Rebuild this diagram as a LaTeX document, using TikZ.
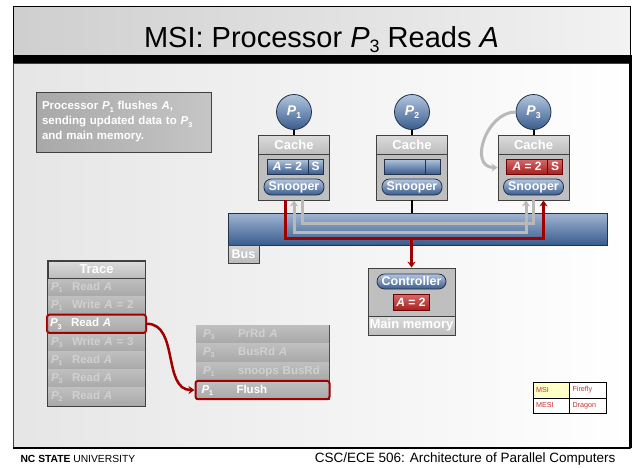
\documentclass[tikz,border=0pt]{standalone}
\usepackage{fontspec}
\setmainfont{Liberation Sans}
\usetikzlibrary{arrows.meta}

\definecolor{bluetop}{HTML}{B2C5DE}
\definecolor{bluebot}{HTML}{3A5C8E}
\definecolor{blueedge}{HTML}{22324C}
\definecolor{redtop}{HTML}{D86A6A}
\definecolor{redbot}{HTML}{A42222}
\definecolor{hlred}{HTML}{A00000}
\definecolor{darkedge}{HTML}{404040}
\definecolor{fadetext}{HTML}{D0D0D0}
\definecolor{legred}{HTML}{C83030}
\definecolor{legyellow}{HTML}{FFFFC8}

% subscripted processor name
\newcommand{\Pn}[1]{\textit{P}\raisebox{-0.35ex}{\scalebox{0.62}{#1}}}

\begin{document}
\begin{tikzpicture}
[x=1pt,y=-1pt,
  procnode/.style={shape=circle,minimum size=35pt,inner sep=0pt,draw=blueedge,thick,top color=bluetop,bottom color=bluebot,text=white,font=\fontsize{14}{15}\selectfont\bfseries},
  cachebox/.style={shape=rectangle,minimum width=71pt,minimum height=65pt,inner sep=0pt,draw=darkedge,thick,fill=gray!50},
  headbox/.style={shape=rectangle,minimum width=71pt,minimum height=19pt,inner sep=0pt,draw=darkedge,thick,top color=gray!28,bottom color=gray!52,text=white,font=\fontsize{13}{14}\selectfont\bfseries},
  bluefield/.style={shape=rectangle,minimum height=15pt,inner sep=0pt,draw=blueedge,thick,top color=bluetop,bottom color=bluebot,text=white,font=\fontsize{12}{13}\selectfont\bfseries},
  redfield/.style={shape=rectangle,minimum height=15pt,inner sep=0pt,draw=hlred!70!black,thick,top color=redtop,bottom color=redbot,text=white,font=\fontsize{12}{13}\selectfont\bfseries},
  pillnode/.style={shape=rectangle,rounded corners=7.5pt,minimum height=16pt,inner sep=0pt,draw=blueedge,thick,top color=bluetop,bottom color=bluebot,text=white,font=\fontsize{12.5}{13}\selectfont\bfseries},
  rowbox/.style={shape=rectangle,minimum height=18.3pt,inner ysep=0pt,align=left,top color=gray!50,bottom color=gray!68,text=fadetext,font=\fontsize{11.5}{13}\selectfont\bfseries},
  hlrow/.style={rowbox,draw=hlred,line width=2pt,rounded corners=2.5pt,text=white},
  legcell/.style={shape=rectangle,minimum height=15.5pt,inner xsep=3pt,text width=30.5pt,align=left,draw=black,fill=white,text=legred,font=\fontsize{7.2}{8}\selectfont},
  wire/.style={line width=2pt,draw=black},
  grayline/.style={line width=3pt,draw=gray!55},
  grayarrow/.style={grayline,->,>={Stealth[length=6pt,width=8pt]}},
  redarrow/.style={line width=3pt,draw=hlred,->,>={Stealth[length=6pt,width=8pt]}}]
\useasboundingbox (0,0) rectangle (636,467);
\fill[white] (0,0) rectangle (636,467);
% slide frame
\node (content) at (321.5,255.5) [shape=rectangle,minimum width=617pt,minimum height=385pt,draw=darkedge,left color=gray!20,right color=white] {};
\draw[line width=3pt] (content.north east) -- (content.south east);
\draw[line width=2.5pt] (content.south west) -- (content.south east);
\node (title) at (321.5,30.5) [shape=rectangle,minimum width=617pt,minimum height=49pt,draw=black,thick,left color=gray!38,right color=gray!10] {};
\node (titlebar) at (322.5,59) [shape=rectangle,minimum width=619pt,minimum height=8pt,inner sep=0pt,fill=black] {};
\node (titletext) at (321.5,47) [anchor=base,font=\fontsize{29}{32}\selectfont] {MSI: Processor \Pn{3} Reads \textit{A}};
\node (univ) at (17,459) [anchor=west,font=\fontsize{10.3}{12}\selectfont] {\textbf{NC STATE} UNIVERSITY};
\node (course) at (619,459) [anchor=east,font=\fontsize{13.5}{15}\selectfont] {CSC/ECE 506: Architecture of Parallel Computers};
% note
\node (note) at (123.5,122) [shape=rectangle,minimum width=175pt,minimum height=60pt,inner xsep=6pt,text width=163pt,align=left,draw=darkedge,thick,left color=gray!68,right color=gray!45,text=white,font=\fontsize{11.5}{15}\selectfont\bfseries]
  {Processor \Pn{1} flushes \textit{A},\\ sending updated data to \Pn{3}\\ and main memory.};
% processors and caches
\node (p1) at (294,112) [procnode] {\Pn{1}};
\node (p2) at (412,112) [procnode] {\Pn{2}};
\node (p3) at (533.5,112) [procnode] {\Pn{3}};
\node (c1) at (294,167.5) [cachebox] {};
\node (c2) at (412,167.5) [cachebox] {};
\node (c3) at (533.5,167.5) [cachebox] {};
\node (h1) at (294,144.5) [headbox] {Cache};
\node (h2) at (412,144.5) [headbox] {Cache};
\node (h3) at (533.5,144.5) [headbox] {Cache};
\node (f1a) at (287.5,166.5) [bluefield,minimum width=41pt] {\textit{A} = 2};
\node (f1s) at (315.5,166.5) [bluefield,minimum width=15pt] {S};
\node (f2a) at (404.5,166.5) [bluefield,minimum width=41pt] {};
\node (f2s) at (432.5,166.5) [bluefield,minimum width=15pt] {};
\node (f3a) at (527,166.5) [redfield,minimum width=41pt] {\textit{A} = 2};
\node (f3s) at (555,166.5) [redfield,minimum width=15pt] {S};
\node (s1) at (294,187) [pillnode,minimum width=60pt] {Snooper};
\node (s2) at (412,187) [pillnode,minimum width=60pt] {Snooper};
\node (s3) at (533.5,187) [pillnode,minimum width=60pt] {Snooper};
% bus and memory
\node (bus) at (417.5,229) [shape=rectangle,minimum width=379pt,minimum height=32pt,draw=blueedge,thick,top color=bluetop!85!bluebot,bottom color=bluebot] {};
\node (buslabel) at (243.5,254) [shape=rectangle,minimum width=31pt,minimum height=18pt,inner sep=0pt,draw=darkedge,thick,top color=gray!35,bottom color=gray!55,text=white,font=\fontsize{12.5}{14}\selectfont\bfseries] {Bus};
\node (mem) at (411.5,301.5) [shape=rectangle,minimum width=87pt,minimum height=67pt,draw=darkedge,thick,fill=gray!50] {};
\node (memlabel) at (411.5,325.5) [headbox,minimum width=87pt,minimum height=19pt] {Main memory};
\node (ctrl) at (411.5,281.5) [pillnode,minimum width=69pt,minimum height=15pt] {Controller};
\node (mema) at (411,302) [redfield,minimum width=36pt,minimum height=16pt] {\textit{A} = 2};
\coordinate (redjoin) at (411.5,238);
% connectors
\draw[wire] (p1) -- (h1);
\draw[wire] (p2) -- (h2);
\draw[wire] (p3) -- (h3);
\draw[wire] (c2.south) -- (c2.south |- bus.north);
\draw[grayline] ([xshift=8pt]c1.south) -- ++(0,23) -| (c3.south);
\draw[grayarrow,<->] (c1.south) -- ++(0,32) -| ([xshift=-7.5pt]c3.south);
\draw[redarrow] ([xshift=-9pt]c1.south) -- ++(0,38) -| ([xshift=10pt]c3.south);
\draw[redarrow] (redjoin) -- (mem.north);
\draw[grayarrow] (p3.west) to[out=180,in=180,looseness=1.3] (c3.west);
% trace
\node (trace) at (96.5,333.5) [shape=rectangle,minimum width=97pt,minimum height=145pt,draw=darkedge,thick,fill=gray!60] {};
\node (t1) at (96.5,287.1) [rowbox,inner xsep=3pt,text width=91pt] {\makebox[21pt][l]{\Pn{1}}Read \textit{A}};
\node (t2) at (96.5,305.4) [rowbox,inner xsep=3pt,text width=91pt] {\makebox[21pt][l]{\Pn{1}}Write \textit{A} = 2};
\node (t4) at (96.5,342) [rowbox,inner xsep=3pt,text width=91pt] {\makebox[21pt][l]{\Pn{3}}Write \textit{A} = 3};
\node (t5) at (96.5,360.3) [rowbox,inner xsep=3pt,text width=91pt] {\makebox[21pt][l]{\Pn{1}}Read \textit{A}};
\node (t6) at (96.5,378.6) [rowbox,inner xsep=3pt,text width=91pt] {\makebox[21pt][l]{\Pn{3}}Read \textit{A}};
\node (t7) at (96.5,396.6) [rowbox,inner xsep=3pt,text width=91pt] {\makebox[21pt][l]{\Pn{2}}Read \textit{A}};
\node (t3) at (96.5,323.8) [hlrow,inner xsep=3pt,text width=93pt] {\makebox[21pt][l]{\Pn{3}}Read \textit{A}};
\node (tracehead) at (96.5,269.5) [headbox,minimum width=97pt,minimum height=17pt] {Trace};
\draw[darkedge,thick] (trace.north west) rectangle (trace.south east);
% actions
\node (acts) at (262.5,362) [shape=rectangle,minimum width=133pt,minimum height=74pt,draw=darkedge,thick,fill=gray!60] {};
\node (a1) at (262.5,334.2) [rowbox,inner xsep=7pt,text width=119pt] {\makebox[35pt][l]{\Pn{3}}PrRd \textit{A}};
\node (a2) at (262.5,352.7) [rowbox,inner xsep=7pt,text width=119pt] {\makebox[35pt][l]{\Pn{3}}BusRd \textit{A}};
\node (a3) at (262.5,371.2) [rowbox,inner xsep=7pt,text width=119pt] {\makebox[35pt][l]{\Pn{1}}snoops BusRd};
\node (a4) at (262.5,390) [hlrow,inner xsep=6pt,text width=122pt] {\makebox[35pt][l]{\Pn{1}}Flush};
\draw[redarrow,line width=2.5pt] (t3.east) to[out=0,in=180] (a4.west);
% legend
\node (leg1) at (551.25,390) [legcell,fill=legyellow] {MSI};
\node (leg2) at (587.75,390) [legcell] {Firefly};
\node (leg3) at (551.25,405.5) [legcell] {MESI};
\node (leg4) at (587.75,405.5) [legcell] {Dragon};
\end{tikzpicture}
\end{document}
